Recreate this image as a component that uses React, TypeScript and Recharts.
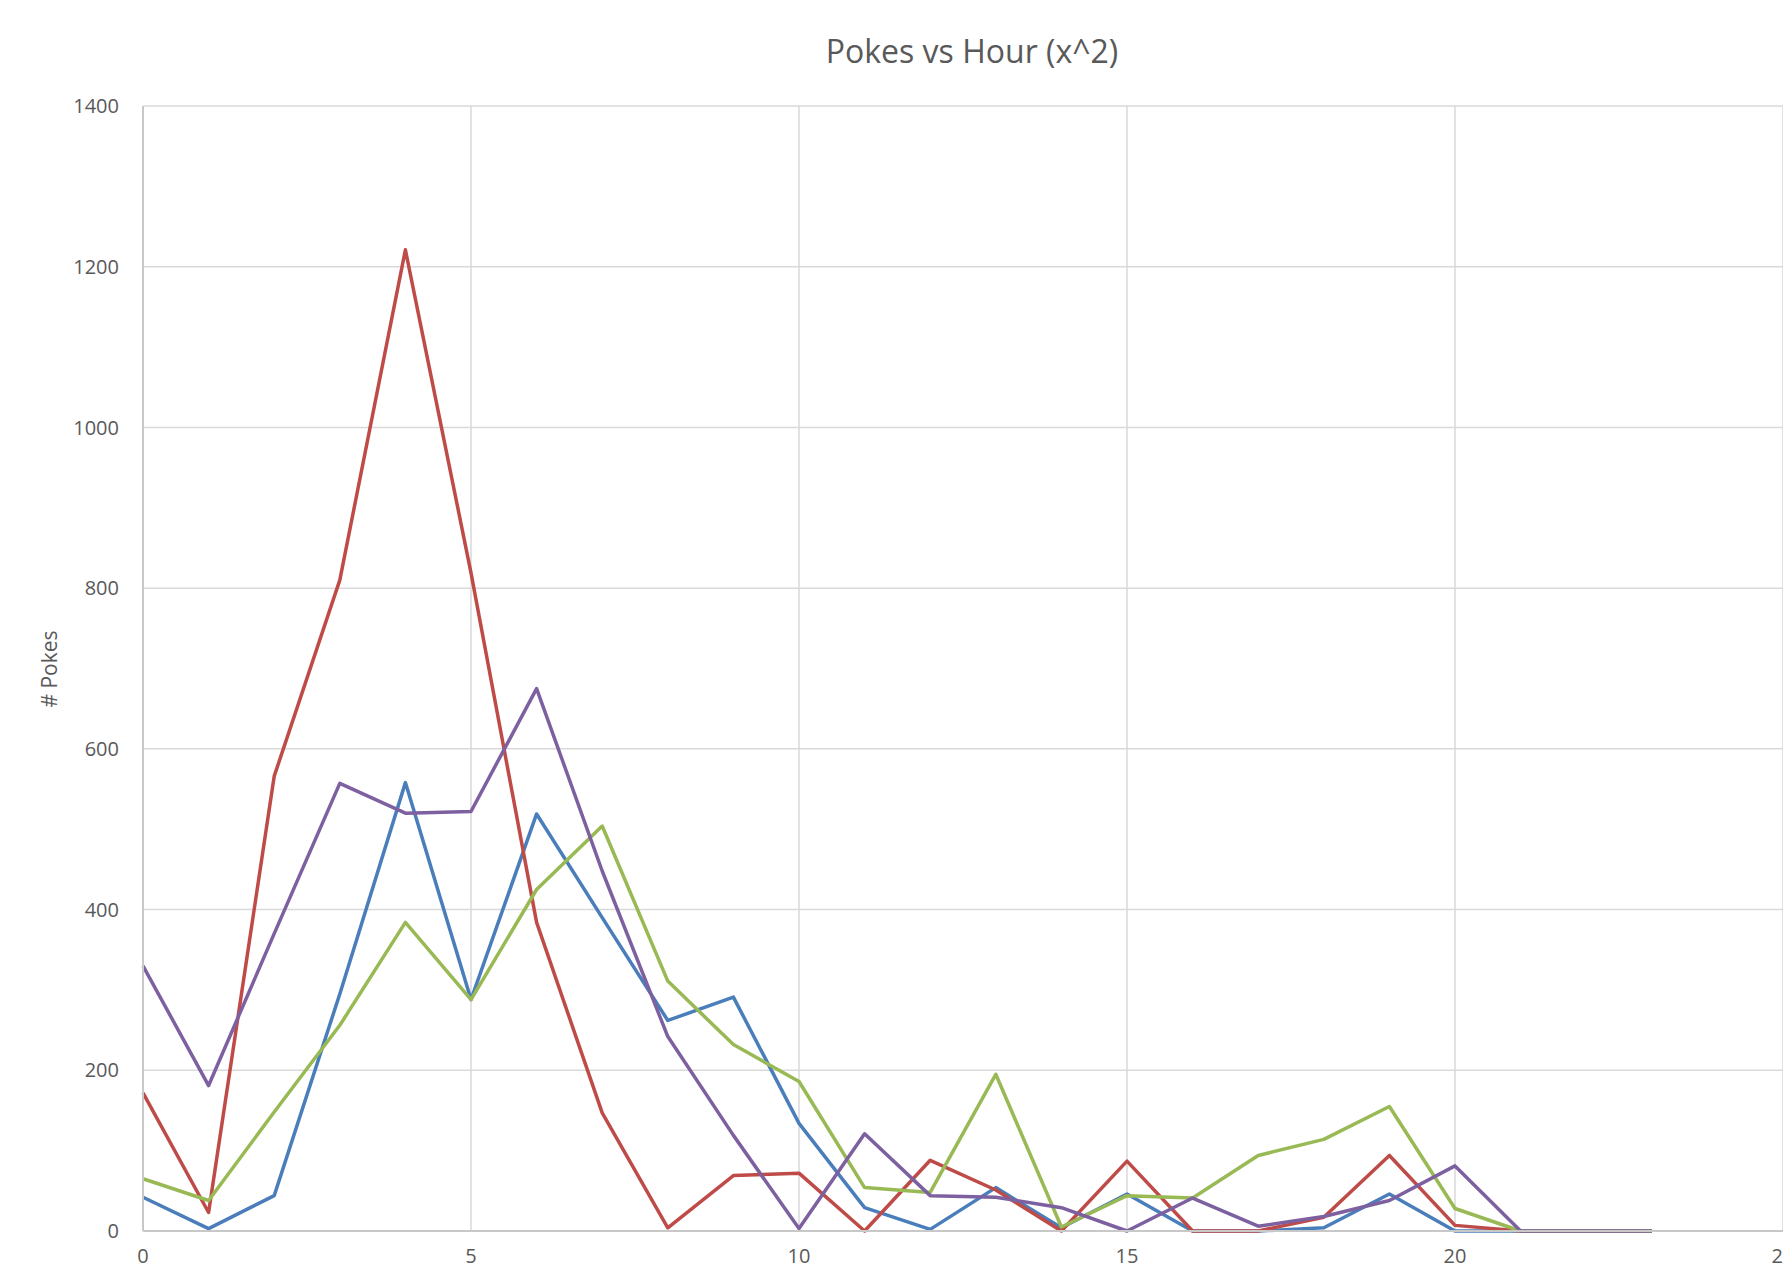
import { LineChart, Line, XAxis, YAxis, CartesianGrid } from 'recharts'

const hours = [0, 1, 2, 3, 4, 5, 6, 7, 8, 9, 10, 11, 12, 13, 14, 15, 16, 17, 18, 19, 20, 21, 22, 23]
const blueSeries = [42, 3, 44, 295, 558, 288, 519, 390, 262, 291, 134, 29, 2, 54, 4, 46, 0, 0, 4, 46, 0, 0, 0, 0]
const redSeries = [172, 23, 566, 810, 1221, 819, 384, 147, 4, 69, 72, 0, 88, 51, 0, 87, 0, 0, 17, 94, 7, 0, 0, 0]
const greenSeries = [65, 38, 148, 256, 384, 288, 425, 504, 311, 232, 186, 54, 48, 195, 5, 44, 41, 94, 114, 155, 28, 0, 0, 0]
const purpleSeries = [330, 181, 370, 557, 520, 522, 675, 448, 242, 119, 3, 121, 44, 42, 29, 0, 41, 6, 18, 38, 81, 0, 0, 0]

const xTicks = [0, 5, 10, 15, 20, 25]
const yTicks = [0, 200, 400, 600, 800, 1000, 1200, 1400]

const data = hours.map((h, i) => ({
  hour: h,
  s1: blueSeries[i],
  s2: redSeries[i],
  s3: greenSeries[i],
  s4: purpleSeries[i],
}))

const font = '"Open Sans", "Liberation Sans", sans-serif'
const tick = { fill: '#595959', fontSize: 20, fontFamily: font }

// the plot runs past the right edge on purpose, like the original (x=25 sits on the border)
export default function App() {
  return (
    <div style={{ position: 'absolute', left: 0, top: 0, width: 1783, height: 1287, overflow: 'hidden', background: '#fff' }}>
      <div
        style={{
          position: 'absolute', left: 0, width: 1944, top: 29, textAlign: 'center',
          fontFamily: font, fontSize: 32, color: '#595959', lineHeight: '44px',
        }}
      >
        Pokes vs Hour (x^2)
      </div>
      <div
        style={{
          position: 'absolute', left: 49, top: 669, transform: 'translate(-50%, -50%) rotate(-90deg)',
          fontFamily: font, fontSize: 21, color: '#595959', whiteSpace: 'nowrap',
        }}
      >
        # Pokes
      </div>
      <LineChart width={1840} height={1287} data={data} margin={{ top: 106, right: 57, bottom: 16, left: 60 }}>
        <CartesianGrid stroke="#D9D9D9" strokeWidth={1.5} />
        <XAxis
          dataKey="hour"
          type="number"
          domain={[0, 25]}
          ticks={xTicks}
          tick={tick}
          tickLine={false}
          axisLine={{ stroke: '#C8C8C8', strokeWidth: 2 }}
          height={40}
          tickMargin={12}
          interval={0}
        />
        <YAxis
          domain={[0, 1400]}
          ticks={yTicks}
          tick={tick}
          tickLine={false}
          axisLine={{ stroke: '#C8C8C8', strokeWidth: 2 }}
          width={83}
          tickMargin={18}
          interval={0}
        />
        <Line type="linear" dataKey="s1" stroke="#4A7EBB" strokeWidth={3.5} strokeLinejoin="round" dot={false} isAnimationActive={false} />
        <Line type="linear" dataKey="s2" stroke="#BE4B48" strokeWidth={3.5} strokeLinejoin="round" dot={false} isAnimationActive={false} />
        <Line type="linear" dataKey="s3" stroke="#98B954" strokeWidth={3.5} strokeLinejoin="round" dot={false} isAnimationActive={false} />
        <Line type="linear" dataKey="s4" stroke="#7D60A0" strokeWidth={3.5} strokeLinejoin="round" dot={false} isAnimationActive={false} />
      </LineChart>
    </div>
  )
}
